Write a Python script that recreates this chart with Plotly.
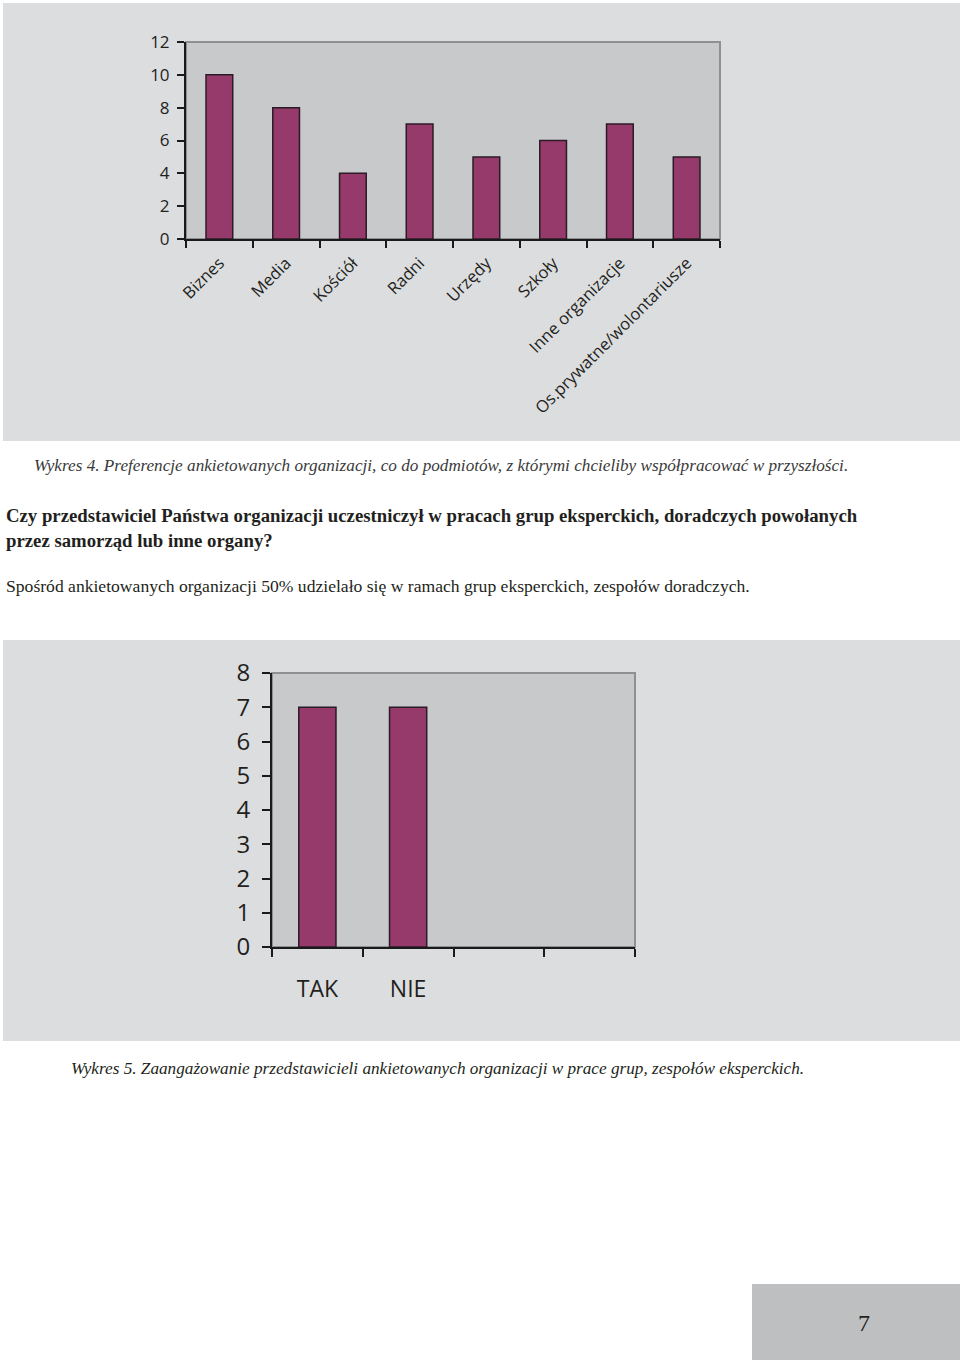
import plotly.graph_objects as go

# ---- data ----
categories1 = ["Biznes", "Media", "Kościół", "Radni", "Urzędy", "Szkoły",
               "Inne organizacje", "Os.prywatne/wolontariusze"]
values1 = [10, 8, 4, 7, 5, 6, 7, 5]
y1_ticks = [0, 2, 4, 6, 8, 10, 12]

categories2 = ["TAK", "NIE", " ", "  "]
values2 = [7, 7, None, None]
y2_ticks = [0, 1, 2, 3, 4, 5, 6, 7, 8]

caption1 = "Wykres 4. Preferencje ankietowanych organizacji, co do podmiotów, z którymi chcieliby współpracować w przyszłości."
question1 = "Czy przedstawiciel Państwa organizacji uczestniczył w pracach grup eksperckich, doradczych powołanych"
question2 = "przez samorząd lub inne organy?"
answer = "Spośród ankietowanych organizacji 50% udzielało się w ramach grup eksperckich, zespołów doradczych."
caption2 = "Wykres 5. Zaangażowanie przedstawicieli ankietowanych organizacji w prace grup, zespołów eksperckich."
page_no = "7"

# ---- style ----
W, H = 960, 1360
BAR = "#963a6c"
EDGE = "#2b1b26"
PANEL = "#dcdddf"
PLOT = "#c8c9cb"
BORDER = "#8f9092"
SANS = "Open Sans, Liberation Sans, sans-serif"
NARROW = "Liberation Sans Narrow, Open Sans, sans-serif"
SERIF = "Liberation Serif, DejaVu Serif, serif"


def py(px):
    return 1 - px / H


def pxx(px):
    return px / W


fig = go.Figure()
fig.add_trace(go.Bar(x=categories1, y=values1, xaxis="x", yaxis="y", width=0.4,
                     marker=dict(color=BAR, line=dict(color=EDGE, width=1.5))))
fig.add_trace(go.Bar(x=categories2, y=values2, xaxis="x2", yaxis="y2", width=0.41,
                     marker=dict(color=BAR, line=dict(color=EDGE, width=1.5))))

axis_common = dict(showline=True, linecolor="#1a1a1a", linewidth=2,
                   ticks="outside", tickcolor="#1a1a1a", tickwidth=2,
                   showgrid=False, zeroline=False, fixedrange=True,
                   automargin=False)

fig.update_layout(
    width=W, height=H,
    margin=dict(l=0, r=0, t=0, b=0, autoexpand=False),
    paper_bgcolor="white", plot_bgcolor=PLOT,
    showlegend=False, bargap=0.6,
    xaxis=dict(domain=[pxx(186), pxx(720)], anchor="y", type="category",
               tickson="boundaries", ticklen=7, tickangle=-45, ticklabelstandoff=6,
               tickfont=dict(family=SANS, size=16.6, color="#231f20"),
               categoryorder="array", categoryarray=categories1, **axis_common),
    yaxis=dict(domain=[py(239), py(42)], anchor="x", range=[0, 12],
               tickvals=y1_ticks, ticklen=7, ticklabelstandoff=4,
               tickfont=dict(family=SANS, size=17, color="#231f20"), **axis_common),
    xaxis2=dict(domain=[pxx(272), pxx(635)], anchor="y2", type="category",
                tickson="boundaries", ticklen=8, ticklabelstandoff=20,
                tickfont=dict(family=NARROW, size=23, color="#231f20"),
                categoryorder="array", categoryarray=categories2, **axis_common),
    yaxis2=dict(domain=[py(947), py(673)], anchor="x2", range=[0, 8],
                tickvals=y2_ticks, ticklen=8, ticklabelstandoff=7,
                tickfont=dict(family=NARROW, size=24, color="#231f20"), **axis_common),
)

shapes = [
    # chart panels
    dict(type="rect", xref="paper", yref="paper", x0=pxx(3), x1=1, y0=py(441), y1=py(3),
         fillcolor=PANEL, line=dict(width=0), layer="below"),
    dict(type="rect", xref="paper", yref="paper", x0=pxx(3), x1=1, y0=py(1041), y1=py(640),
         fillcolor=PANEL, line=dict(width=0), layer="below"),
    # plot areas with borders
    dict(type="rect", xref="x domain", yref="y domain", x0=0, x1=1, y0=0, y1=1,
         fillcolor=PLOT, line=dict(color=BORDER, width=2), layer="below"),
    dict(type="rect", xref="x2 domain", yref="y2 domain", x0=0, x1=1, y0=0, y1=1,
         fillcolor=PLOT, line=dict(color=BORDER, width=2), layer="below"),
    # page number box
    dict(type="rect", xref="paper", yref="paper", x0=pxx(752), x1=1, y0=0, y1=py(1284),
         fillcolor="#bebfc1", line=dict(width=0), layer="below"),
]
fig.update_layout(shapes=shapes)

ann = [
    dict(text="<i>" + caption1 + "</i>", x=pxx(32), y=py(465), size=17.2, color="#3a3a3a"),
    dict(text="<b>" + question1 + "</b>", x=pxx(4), y=py(515), size=18.75, color="#231f20"),
    dict(text="<b>" + question2 + "</b>", x=pxx(4), y=py(541), size=18.75, color="#231f20"),
    dict(text=answer, x=pxx(4), y=py(586), size=17.6, color="#231f20"),
    dict(text="<i>" + caption2 + "</i>", x=pxx(69), y=py(1068), size=17.2, color="#231f20"),
]
for a in ann:
    fig.add_annotation(text=a["text"], x=a["x"], y=a["y"], xref="paper", yref="paper",
                       xanchor="left", yanchor="middle", showarrow=False,
                       font=dict(family=SERIF, size=a["size"], color=a["color"]))
fig.add_annotation(text=page_no, x=pxx(864), y=py(1323), xref="paper", yref="paper",
                   xanchor="center", yanchor="middle", showarrow=False,
                   font=dict(family=SERIF, size=24, color="#231f20"))

fig.write_html("out.html", config={"displayModeBar": False},
               post_script="document.body.style.margin='0';"
                           "document.body.style.overflow='hidden';")
